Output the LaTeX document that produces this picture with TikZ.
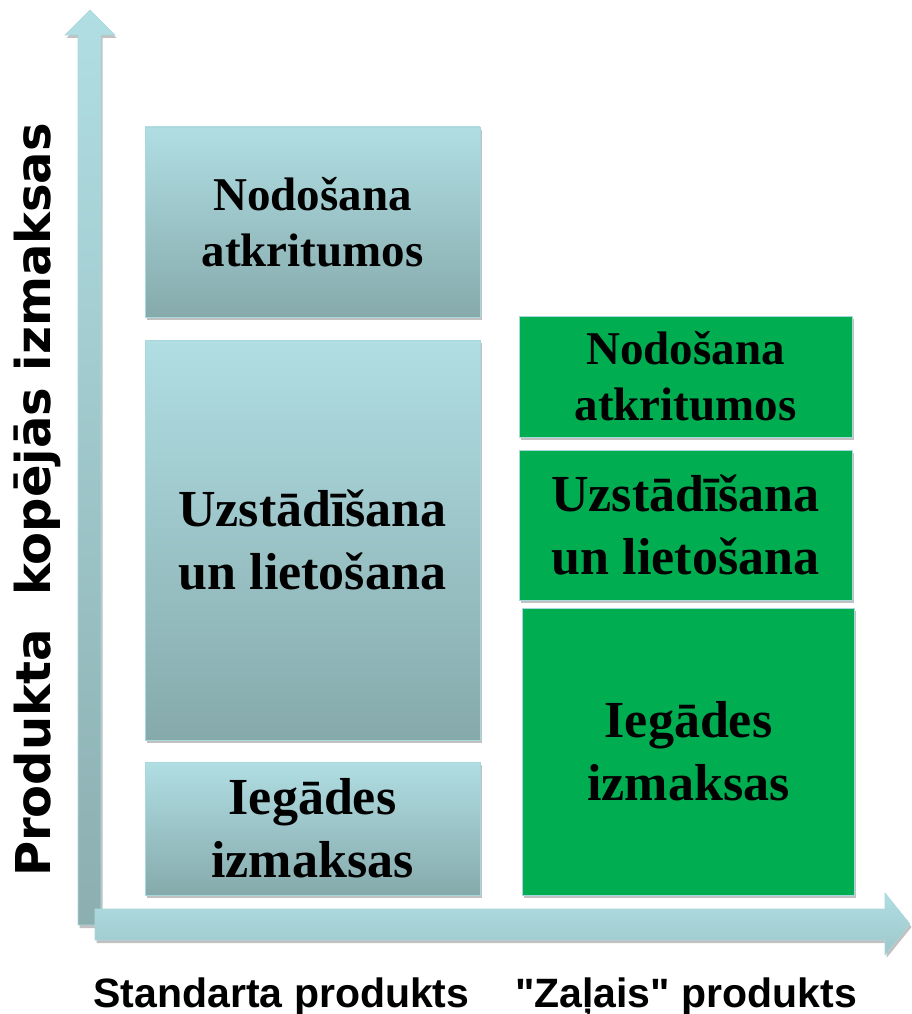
\documentclass[tikz,border=0pt]{standalone}
\usepackage{fontspec}
\setmainfont{Liberation Serif}
\newfontfamily\axisfont{DejaVu Sans}
\newfontfamily\catfont{Liberation Sans}
\usetikzlibrary{shadows}
\definecolor{lblue}{HTML}{B0DEE3}
\definecolor{dblue}{HTML}{86AAAC}
\definecolor{gbox}{HTML}{00AD50}
\definecolor{edgeb}{HTML}{A9D8DC}
\tikzset{
  shadowed/.style={drop shadow={shadow xshift=1.5pt, shadow yshift=-3pt, opacity=0.35, fill=black!70}},
  greybox/.style={shadowed, rectangle, draw=edgeb, line width=0.8pt, top color=lblue, bottom color=dblue, align=center, inner sep=0pt},
  greenbox/.style={shadowed, rectangle, draw=edgeb, line width=0.8pt, fill=gbox, align=center, inner sep=0pt},
  txtA/.style={font=\bfseries\fontsize{47}{56}\selectfont},
  txtB/.style={font=\bfseries\fontsize{52}{63}\selectfont},
  axisarrow/.style={shadowed, draw=edgeb, line width=0.6pt},
}
\begin{document}
\begin{tikzpicture}[x=1pt,y=-1pt]
\useasboundingbox (0,0) rectangle (911,1014);
% vertical axis arrow
\path[axisarrow, top color=lblue, bottom color=dblue!95]
  (78,925) -- (78,35) -- (65,35) -- (90,10) -- (115,35) -- (101,35) -- (101,925) -- cycle;
% horizontal axis arrow
\path[axisarrow, top color=lblue, bottom color=lblue!55!dblue]
  (95,909) -- (885,909) -- (885,893) -- (910,924) -- (885,955) -- (885,940) -- (95,940) -- cycle;
% left boxes
\node[greybox, txtA, minimum width=335pt, minimum height=190pt] (l1) at (312.5,222) {Nodošana\\atkritumos};
\node[greybox, txtB, minimum width=335pt, minimum height=400pt] (l2) at (312.5,540) {Uzstādīšana\\un lietošana};
\node[greybox, txtB, minimum width=335pt, minimum height=133pt] (l3) at (312.5,828.5) {Iegādes\\izmaksas};
% right boxes
\node[greenbox, txtA, minimum width=333pt, minimum height=121pt] (r1) at (685.5,376.5) {Nodošana\\atkritumos};
\node[greenbox, txtB, minimum width=333pt, minimum height=150pt] (r2) at (685.5,525) {Uzstādīšana\\un lietošana};
\node[greenbox, txtB, minimum width=332pt, minimum height=287pt] (r3) at (688.5,751.5) {Iegādes\\izmaksas};
% axis labels
\node[rotate=90, anchor=base, inner sep=0pt, font=\axisfont\bfseries\fontsize{48}{58}\selectfont] (ylab) at (50,500) {Produkta\ \ kopējās izmaksas};
\node[anchor=base, inner sep=0pt, font=\catfont\bfseries\fontsize{41}{49}\selectfont] (xl1) at (281.5,1007) {Standarta produkts};
\node[anchor=base, inner sep=0pt, font=\catfont\bfseries\fontsize{41}{49}\selectfont] (xl2) at (686,1007) {"Zaļais" produkts};
\end{tikzpicture}
\end{document}
